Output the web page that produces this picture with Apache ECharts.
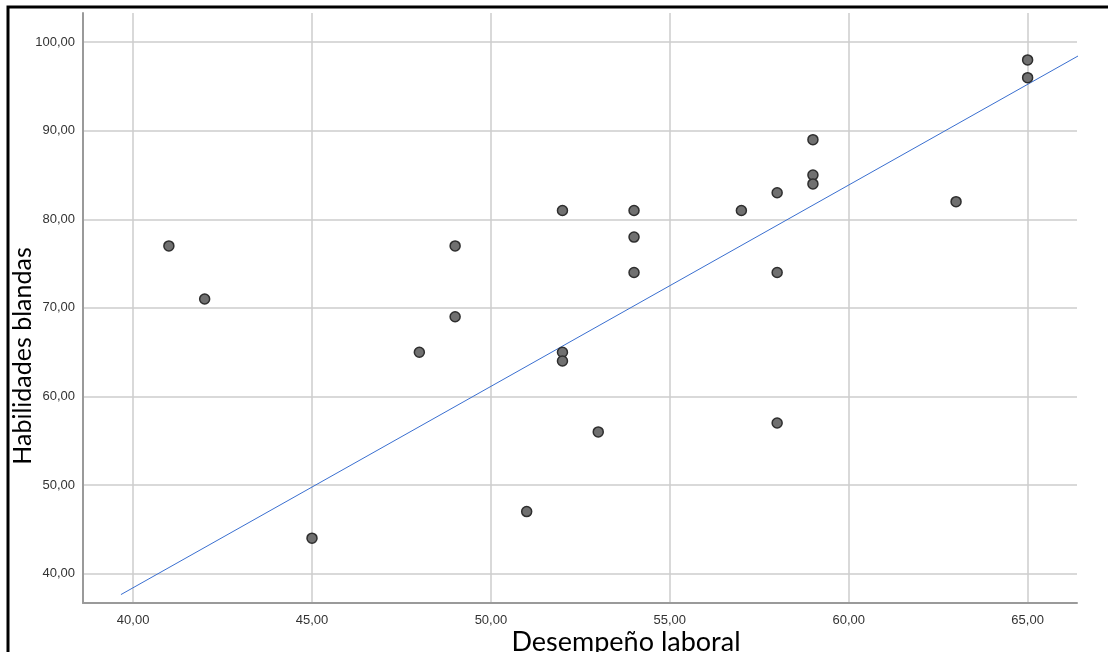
<!DOCTYPE html>
<html>
<head>
<meta charset="utf-8">
<script src="https://cdn.jsdelivr.net/npm/echarts@6/dist/echarts.min.js"></script>
<style>
html,body{margin:0;padding:0;background:#fff;}
#chart{width:1108px;height:652px;}
</style>
</head>
<body>
<div id="chart"></div>
<script>
// Data
const desempeno = [41, 42, 45, 48, 49, 49, 51, 52, 52, 52, 53, 54, 54, 54, 57, 58, 58, 58, 59, 59, 59, 63, 65, 65];
const habilidades = [77, 71, 44, 65, 77, 69, 47, 81, 65, 64, 56, 81, 78, 74, 81, 83, 74, 57, 89, 85, 84, 82, 98, 96];
const fitLineX = [39.66, 66.56];
const fitLineY = [37.63, 98.79];
const xTicks = [40, 45, 50, 55, 60, 65];
const yTicks = [40, 50, 60, 70, 80, 90, 100];

const points = desempeno.map((x, i) => [x, habilidades[i]]);
const fit = fitLineX.map((x, i) => [x, fitLineY[i]]);
const fmt = v => Number(v).toFixed(2).replace('.', ',');

const chart = echarts.init(document.getElementById('chart'), null, {renderer: 'canvas'});
chart.setOption({
  animation: false,
  backgroundColor: '#ffffff',
  grid: {left: 83, right: 31, top: 13, bottom: 49, containLabel: false, outerBoundsMode: 'none'},
  xAxis: {
    type: 'value', min: 38.6, max: 66.38,
    name: 'Desempeño laboral', nameLocation: 'middle', nameGap: 26, nameMoveOverlap: false,
    nameTextStyle: {fontFamily: 'Lato', fontSize: 27, color: '#000', padding: [0, 0, 0, 92]},
    axisLine: {show: true, lineStyle: {color: '#9a9a9a', width: 2}},
    axisTick: {show: false, customValues: xTicks},
    axisLabel: {customValues: xTicks, formatter: fmt, color: '#333', fontFamily: 'Liberation Sans', fontSize: 13, margin: 11},
    splitLine: {show: true, lineStyle: {color: '#cccccc', width: 1.5}}
  },
  yAxis: {
    type: 'value', min: 36.68, max: 103.3,
    name: 'Habilidades blandas', nameLocation: 'middle', nameGap: 48, nameMoveOverlap: false,
    nameTextStyle: {fontFamily: 'Lato', fontSize: 25, color: '#000', padding: [0, 96, 0, 0]},
    axisLine: {show: true, lineStyle: {color: '#9a9a9a', width: 2}},
    axisTick: {show: false, customValues: yTicks},
    axisLabel: {customValues: yTicks, formatter: fmt, color: '#333', fontFamily: 'Liberation Sans', fontSize: 13, margin: 8},
    splitLine: {show: true, lineStyle: {color: '#cccccc', width: 1.5}}
  },
  graphic: [{
    type: 'rect', silent: true,
    shape: {x: 8, y: 7, width: 1400, height: 900},
    style: {fill: 'none', stroke: '#000', lineWidth: 3}
  }],
  series: [
    {
      type: 'line', data: fit, showSymbol: false, clip: false, z: 3,
      lineStyle: {color: '#3a6fd0', width: 1}
    },
    {
      type: 'scatter', data: points, symbolSize: 10, z: 4,
      itemStyle: {color: '#707070', borderColor: '#2e2e2e', borderWidth: 1.5, opacity: 1}
    }
  ]
});
</script>
</body>
</html>
